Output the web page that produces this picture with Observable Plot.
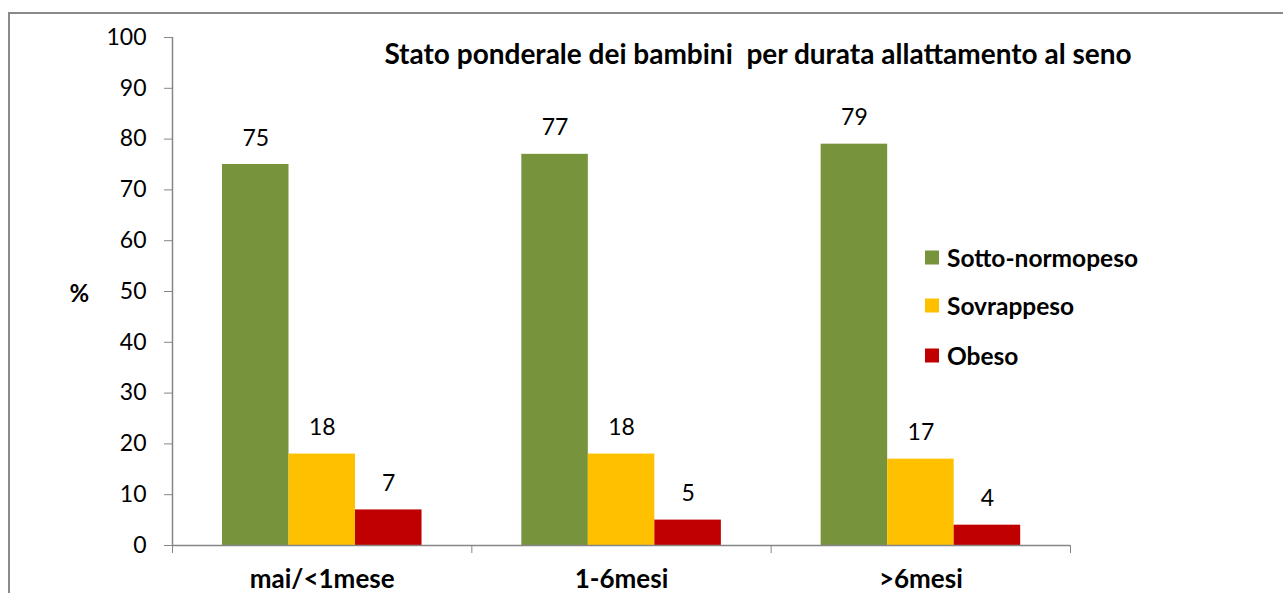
<!DOCTYPE html>
<html>
<head>
<meta charset="utf-8">
<script src="https://cdn.jsdelivr.net/npm/d3@7"></script>
<script src="https://cdn.jsdelivr.net/npm/@observablehq/plot@0.6"></script>
<style>
  html, body { margin: 0; padding: 0; background: #fff; }
  body { width: 1283px; height: 593px; position: relative; overflow: hidden; font-family: Lato, "Open Sans", sans-serif; }
  #frame { position: absolute; left: 8px; top: 12px; width: 1300px; height: 620px; border-top: 2px solid #8a8a8a; border-left: 2px solid #8a8a8a; box-sizing: border-box; }
  #chart { position: absolute; left: 0; top: 0; }
  #title { position: absolute; left: 758px; top: 53px; transform: translate(-50%, -50%); font-weight: bold; font-size: 28px; white-space: pre; color: #000; }
  #legend { position: absolute; left: 925px; top: 0; }
  .li { position: absolute; left: 0; white-space: nowrap; font-weight: bold; font-size: 24.5px; color: #000; display: flex; align-items: center; transform: translateY(-50%); }
  .sw { width: 14px; height: 14px; margin-right: 8px; }
</style>
</head>
<body>
<div id="frame"></div>
<div id="chart"></div>
<div id="title"></div>
<div id="legend"></div>
<script>
const categories = ["mai/<1mese", "1-6mesi", ">6mesi"];
const seriesNames = ["Sotto-normopeso", "Sovrappeso", "Obeso"];
const sottoNormopeso = [75, 77, 79];
const sovrappeso = [18, 18, 17];
const obeso = [7, 5, 4];
const seriesColors = ["#77933C", "#FFC000", "#C00000"];
const yTicks = [0, 10, 20, 30, 40, 50, 60, 70, 80, 90, 100];
const titleText = "Stato ponderale dei bambini  per durata allattamento al seno";
const yLabel = "%";

const seriesValues = [sottoNormopeso, sovrappeso, obeso];
const rows = [];
categories.forEach((c, ci) => {
  seriesNames.forEach((s, si) => {
    rows.push({category: c, ci, series: s, si, value: seriesValues[si][ci]});
  });
});

// layout of bars within each category slot (fractions of a slot)
const groupOffset = 0.167;
const barW = 0.2222;
const x1 = d => d.ci + groupOffset + d.si * barW;
const x2 = d => d.ci + groupOffset + (d.si + 1) * barW;
const xc = d => d.ci + groupOffset + (d.si + 0.5) * barW;

const plot = Plot.plot({
  width: 1283,
  height: 593,
  marginLeft: 172,
  marginRight: 213,
  marginTop: 37,
  marginBottom: 48,
  style: {fontFamily: "Lato, 'Open Sans', sans-serif", color: "#868686", background: "transparent", overflow: "visible"},
  x: {type: "linear", domain: [0, categories.length]},
  y: {domain: [0, 100]},
  color: {domain: seriesNames, range: seriesColors},
  marks: [
    Plot.rectY(rows, {x1, x2, y1: 0, y2: "value", fill: "series"}),
    Plot.text(rows, {x: xc, y: "value", text: d => String(d.value), lineAnchor: "bottom", dy: -19, fontSize: 23, fill: "black"}),
    Plot.ruleX([0], {stroke: "#868686", strokeWidth: 1.5}),
    Plot.ruleY([0], {stroke: "#868686", strokeWidth: 1.5}),
    Plot.axisY({ticks: yTicks, tickSize: 8, tickPadding: 18, fontSize: 23, fill: "black", label: null, tickFormat: d => String(d)}),
    Plot.axisX({ticks: d3.range(0, categories.length + 1), tickSize: 8, tickFormat: () => "", label: null}),
    Plot.axisX({ticks: categories.map((c, i) => i + 0.5), tickSize: 0, tickPadding: 24, fontSize: 26, fontWeight: "bold", fill: "black", label: null, tickFormat: d => categories[Math.floor(d)]}),
    Plot.text([yLabel], {frameAnchor: "left", dx: -103, dy: 3, text: d => d, fontSize: 24, fontWeight: "bold", fill: "black"})
  ]
});
document.getElementById("chart").appendChild(plot);

document.getElementById("title").textContent = titleText;
const legendTops = [257, 305, 355];
const legend = document.getElementById("legend");
seriesNames.forEach((s, i) => {
  const item = document.createElement("div");
  item.className = "li";
  item.style.top = legendTops[i] + "px";
  const sw = document.createElement("div");
  sw.className = "sw";
  sw.style.background = seriesColors[i];
  const t = document.createElement("span");
  t.textContent = s;
  item.appendChild(sw);
  item.appendChild(t);
  legend.appendChild(item);
});
</script>
</body>
</html>
